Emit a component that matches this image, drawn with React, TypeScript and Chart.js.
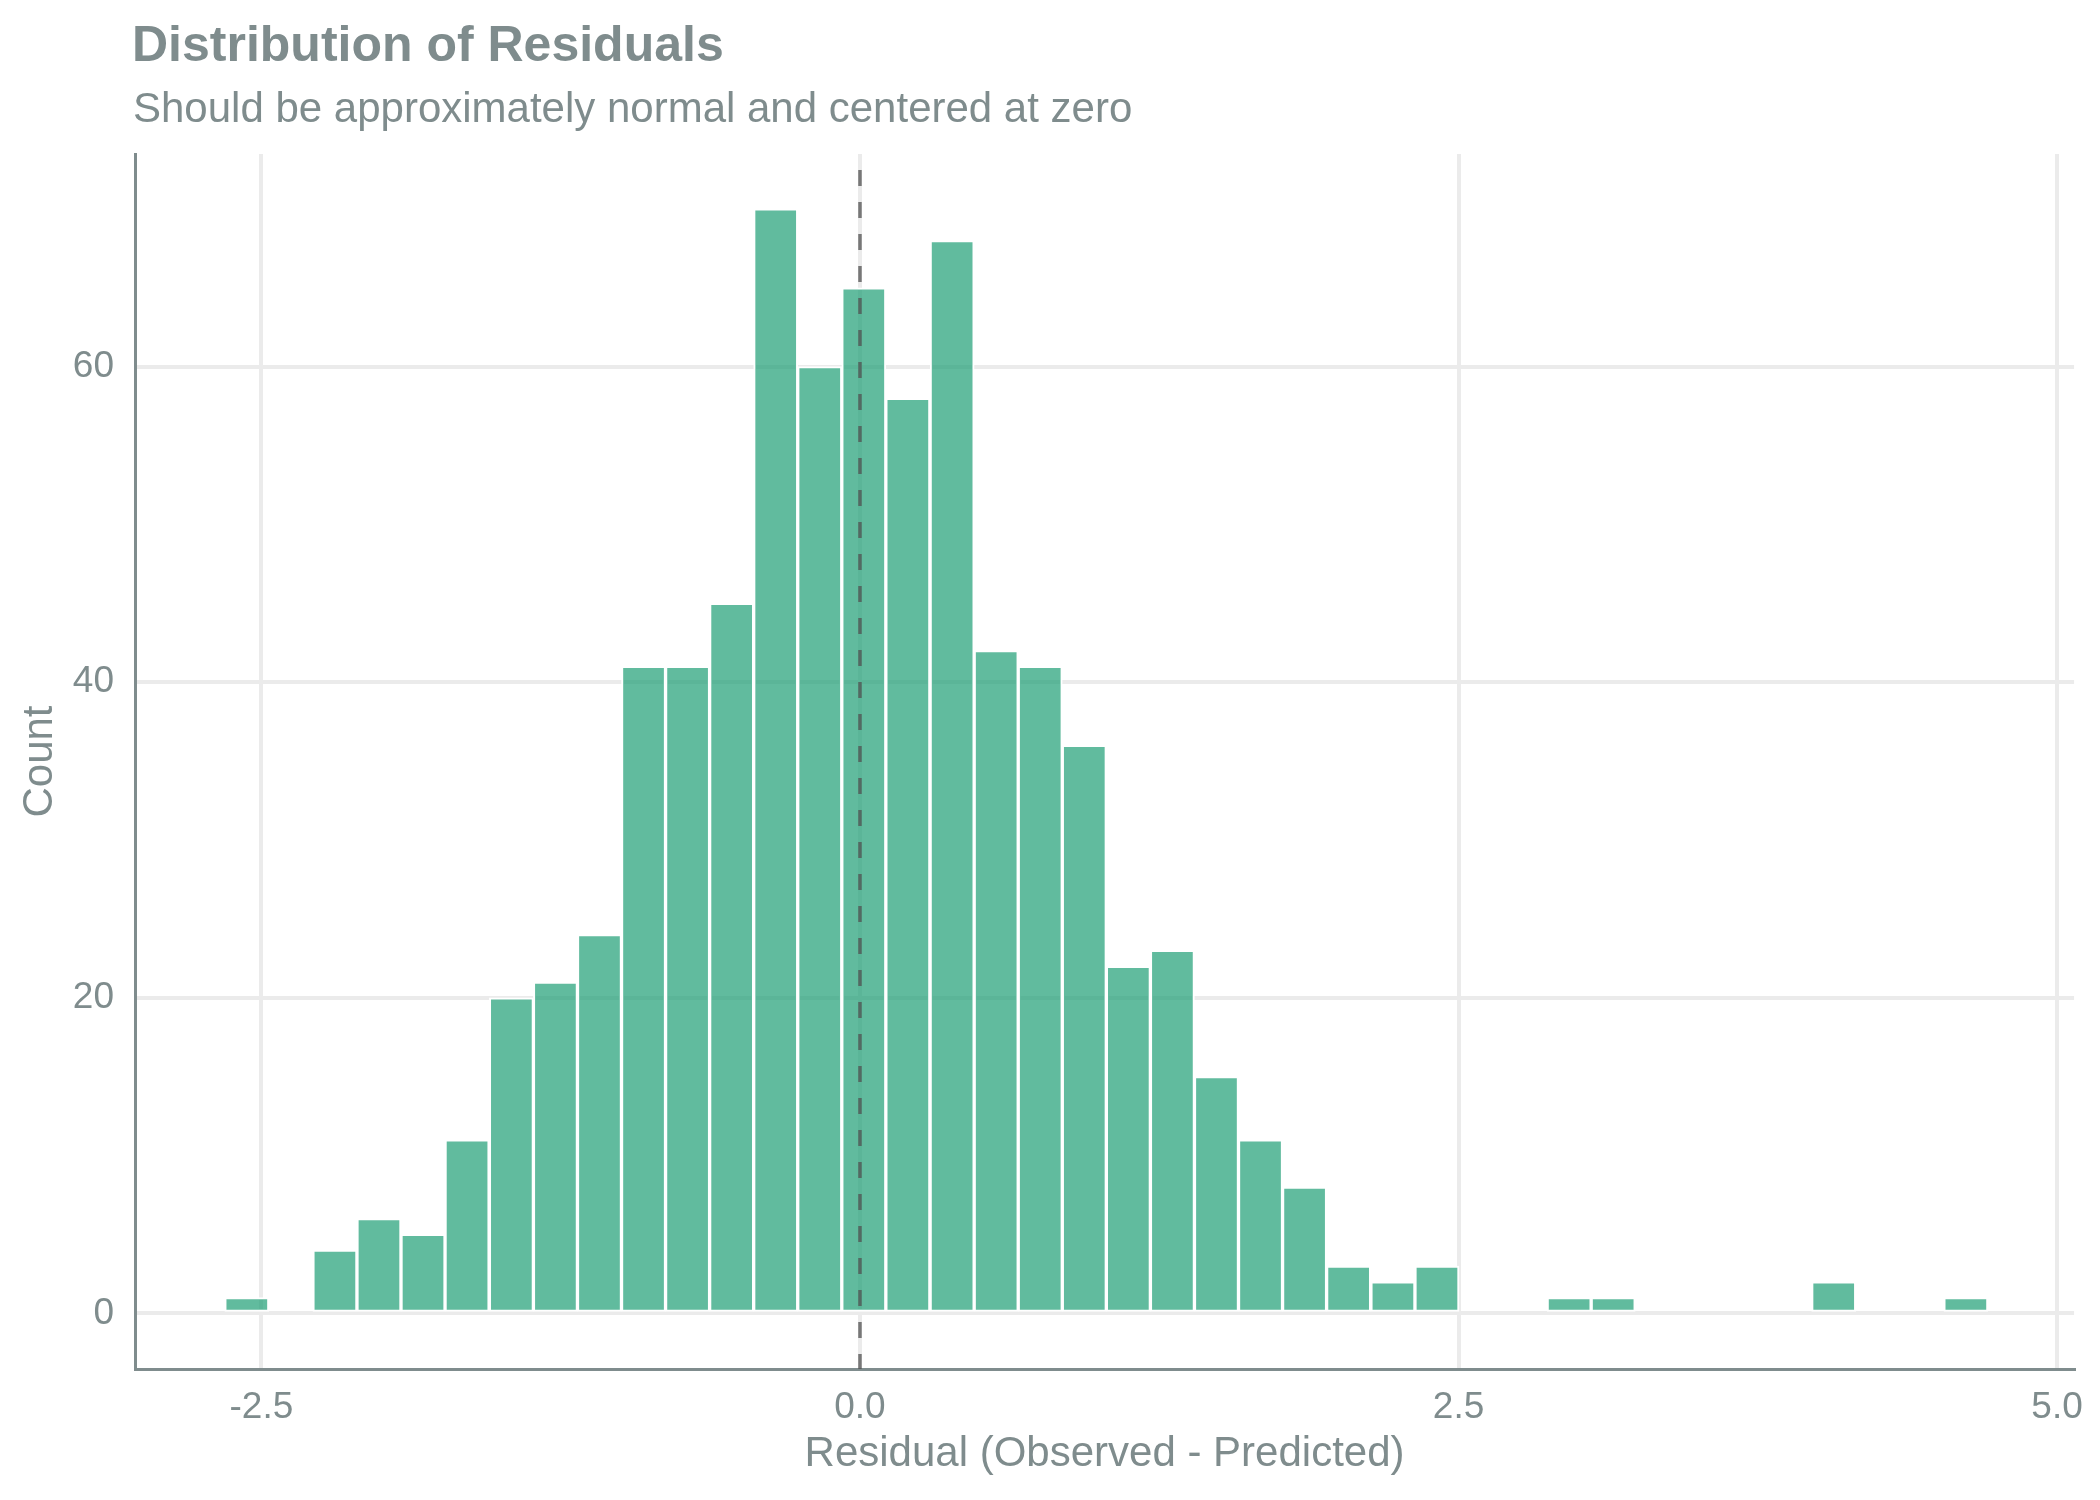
import { useEffect, useRef } from 'react';
import { Chart, registerables } from 'chart.js';

Chart.register(...registerables);

// histogram bins (centre of each bin) and the count in each
const binCenters = [
  -2.561, -2.377, -2.193, -2.009, -1.825, -1.641, -1.456, -1.272, -1.088, -0.904,
  -0.72, -0.536, -0.352, -0.168, 0.016, 0.2, 0.385, 0.569, 0.753, 0.937,
  1.121, 1.305, 1.489, 1.673, 1.857, 2.041, 2.226, 2.41, 2.594, 2.778,
  2.962, 3.146, 3.33, 3.514, 3.698, 3.883, 4.067, 4.251, 4.435, 4.619,
];
const counts = [
  1, 0, 4, 6, 5, 11, 20, 21, 24, 41,
  41, 45, 70, 60, 65, 58, 68, 42, 41, 36,
  22, 23, 15, 11, 8, 3, 2, 3, 0, 0,
  1, 1, 0, 0, 0, 0, 2, 0, 0, 1,
];
const xTickValues = [-2.5, 0, 2.5, 5];
const yTickValues = [0, 20, 40, 60];
const referenceLine = 0;

const titleText = 'Distribution of Residuals';
const subtitleText = 'Should be approximately normal and centered at zero';
const xTitle = 'Residual (Observed - Predicted)';
const yTitle = 'Count';

const GREY = '#7f8c8d';
const GRID = '#ebebeb';
const FONT = "'Liberation Sans', Arial, Helvetica, sans-serif";

const headerPlugin = {
  id: 'header',
  afterDraw(chart: Chart) {
    const { ctx, chartArea } = chart;
    ctx.save();
    ctx.fillStyle = GREY;
    ctx.textAlign = 'left';
    ctx.textBaseline = 'alphabetic';
    ctx.font = `bold 50px ${FONT}`;
    ctx.fillText(titleText, chartArea.left - 3, 61);
    ctx.font = `42px ${FONT}`;
    ctx.fillText(subtitleText, chartArea.left - 2, 122);
    ctx.restore();
  },
};

// dashed line at zero, drawn over the bars
const zeroLinePlugin = {
  id: 'zeroLine',
  afterDatasetsDraw(chart: Chart) {
    const { ctx, chartArea, scales } = chart;
    const x = scales.x.getPixelForValue(referenceLine);
    ctx.save();
    ctx.strokeStyle = 'rgba(80, 80, 80, 0.75)';
    ctx.lineWidth = 3.5;
    ctx.setLineDash([16, 16]);
    ctx.lineDashOffset = 16;
    ctx.beginPath();
    ctx.moveTo(x, chartArea.top);
    ctx.lineTo(x, chartArea.bottom);
    ctx.stroke();
    ctx.restore();
  },
};

const App = () => {
  const canvasRef = useRef<HTMLCanvasElement>(null);
  const chartRef = useRef<Chart | null>(null);

  useEffect(() => {
    document.body.style.margin = '0';
    if (!canvasRef.current) return;
    if (chartRef.current) chartRef.current.destroy();

    const ctx = canvasRef.current.getContext('2d');
    if (!ctx) return;

    chartRef.current = new Chart(ctx, {
      type: 'bar',
      data: {
        datasets: [
          {
            label: 'Count',
            data: counts.map((c, i) => ({ x: binCenters[i], y: c })),
            backgroundColor: 'rgba(30, 158, 117, 0.7)',
            borderColor: '#ffffff',
            borderWidth: 2,
            borderSkipped: false,
            barPercentage: 1,
            categoryPercentage: 1,
          },
        ],
      },
      options: {
        animation: false,
        responsive: false,
        layout: {
          padding: { top: 154, right: 23, bottom: 0, left: 0 },
        },
        plugins: {
          legend: { display: false },
          tooltip: { enabled: false },
        },
        scales: {
          x: {
            type: 'linear',
            min: -3.028,
            max: 5.071,
            offset: false,
            afterBuildTicks: (axis: any) => {
              axis.ticks = xTickValues.map(v => ({ value: v }));
            },
            afterFit: (axis: any) => {
              axis.height = 131;
            },
            grid: { color: GRID, lineWidth: 4, drawTicks: false, offset: false },
            border: { display: true, color: GREY, width: 3 },
            ticks: {
              padding: 17,
              color: GREY,
              autoSkip: false,
              maxRotation: 0,
              font: { size: 37, family: FONT },
              callback: (v: any) => Number(v).toFixed(1),
            },
            title: {
              display: true,
              text: xTitle,
              color: GREY,
              font: { size: 42, family: FONT },
              padding: { top: 0, bottom: 20 },
            },
          },
          y: {
            type: 'linear',
            min: -3.53,
            max: 73.48,
            afterBuildTicks: (axis: any) => {
              axis.ticks = yTickValues.map(v => ({ value: v }));
            },
            afterFit: (axis: any) => {
              axis.width = 135;
            },
            grid: { color: GRID, lineWidth: 4, drawTicks: false },
            border: { display: true, color: GREY, width: 3 },
            ticks: {
              padding: 21,
              color: GREY,
              font: { size: 37, family: FONT },
            },
            title: {
              display: true,
              text: yTitle,
              color: GREY,
              font: { size: 42, family: FONT },
              padding: { top: 15, bottom: 0 },
            },
          },
        },
      },
      plugins: [headerPlugin, zeroLinePlugin],
    });

    return () => {
      if (chartRef.current) {
        chartRef.current.destroy();
        chartRef.current = null;
      }
    };
  }, []);

  return (
    <div style={{ width: 2100, height: 1500, background: '#ffffff' }}>
      <canvas ref={canvasRef} width={2100} height={1500} style={{ display: 'block', width: 2100, height: 1500 }} />
    </div>
  );
};

export default App;
